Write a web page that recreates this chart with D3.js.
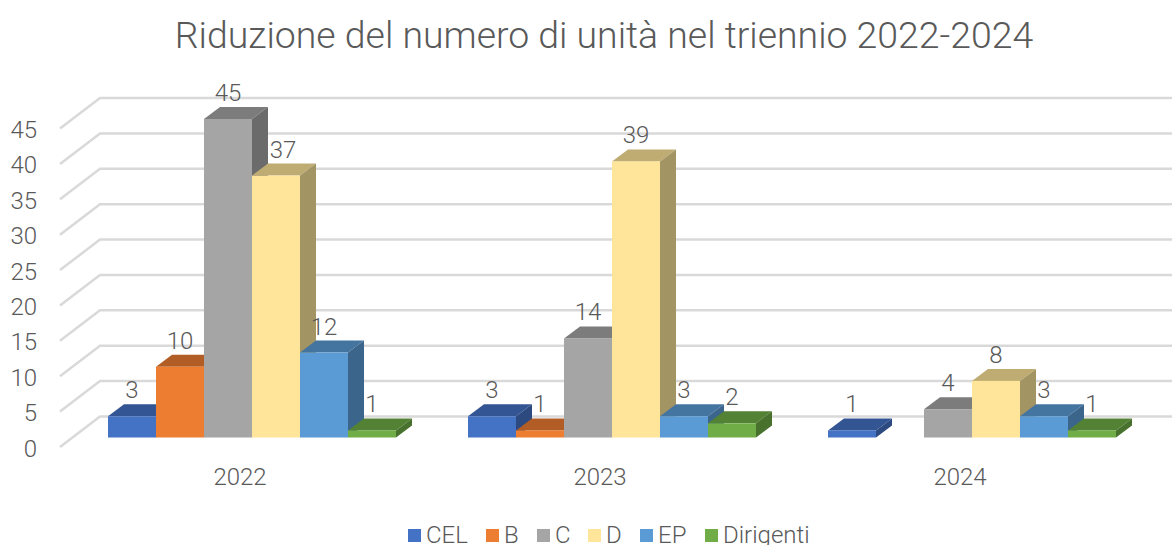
<!DOCTYPE html>
<html><head><meta charset="utf-8">
<script src="https://cdn.jsdelivr.net/npm/d3@7"></script>
<style>
html,body{margin:0;padding:0;background:#fff;overflow:hidden}
svg{display:block}
text{font-family:Roboto,sans-serif;font-weight:300;fill:#595959}
</style></head><body>
<svg id="c" width="1172" height="545"></svg>
<script>
const titleText = "Riduzione del numero di unità nel triennio 2022-2024";
const years = ["2022","2023","2024"];
const seriesNames = ["CEL","B","C","D","EP","Dirigenti"];
const CEL = [3,3,1];
const B = [10,1,null];
const C = [45,14,4];
const D = [37,39,8];
const EP = [12,3,3];
const Dirigenti = [1,2,1];
const seriesValues = [CEL,B,C,D,EP,Dirigenti];
const yTicks = [0,5,10,15,20,25,30,35,40,45];
const frontColors = ["#4472C4","#ED7D31","#A5A5A5","#FFE599","#5B9BD5","#70AD47"];
const topColors = ["#335593","#B25D25","#7C7C7C","#BFAC72","#4474A0","#548235"];
const sideColors = ["#2C4A80","#9B5120","#6B6B6B","#A39563","#3B658A","#49712E"];

const svg = d3.select("#c");
const depthX = 16, depthY = 12;
const wallX = 40, wallY = 21, tickDrop = 9.5;
const y = d3.scaleLinear().domain([0,45]).range([437.5,119]);
const x0 = d3.scaleBand().domain(years).range([60,1140]);
const x1 = d3.scaleBand().domain(seriesNames).range([48,336]);

svg.append("text").attr("x",604).attr("y",48).attr("text-anchor","middle")
  .style("font-size","37.4px").text(titleText);

// gridlines on floor edge and back wall
const grid = svg.append("g").attr("fill","none").attr("stroke","#D9D9D9").attr("stroke-width",2.5);
grid.selectAll("path").data(yTicks).join("path")
  .attr("d",v=>{
    const p=d3.path(), f=y(v)+tickDrop;
    p.moveTo(60,f); p.lineTo(60+wallX,y(v)-wallY); p.lineTo(1172,y(v)-wallY);
    return p.toString();
  });

// y axis labels
const yAxis = svg.append("g").attr("transform","translate(37,0)")
  .call(d3.axisLeft(y).tickValues(yTicks).tickSize(0).tickPadding(0));
yAxis.select(".domain").remove();
yAxis.selectAll("text").style("font-size","24px").style("font-family","Roboto").attr("dy",null)
  .attr("y",18.5).attr("x",0);

// x axis labels
const xAxis = svg.append("g").attr("transform","translate(0,476)")
  .call(d3.axisBottom(x0).tickSize(0).tickPadding(0));
xAxis.select(".domain").remove();
xAxis.selectAll("text").style("font-size","24px").style("font-family","Roboto").attr("dy",null).attr("y",9);

// bars
const bars = svg.append("g");
years.forEach((yr,gi)=>{
  seriesNames.forEach((s,si)=>{
    const v = seriesValues[si][gi];
    if(v===null) return;
    const left = x0(yr)+x1(s), w = x1.bandwidth(), top = y(v), base = y(0);
    const g = bars.append("g");
    g.append("path").attr("fill",topColors[si])
      .attr("d",d3.line()([[left,top],[left+depthX,top-depthY],[left+w+depthX,top-depthY],[left+w,top]])+"Z");
    g.append("path").attr("fill",sideColors[si])
      .attr("d",d3.line()([[left+w,top],[left+w+depthX,top-depthY],[left+w+depthX,base-depthY],[left+w,base]])+"Z");
    g.append("rect").attr("x",left).attr("y",top).attr("width",w).attr("height",base-top).attr("fill",frontColors[si]);
  });
});

// value labels
const labels = svg.append("g").attr("text-anchor","middle").style("font-size","24px");
years.forEach((yr,gi)=>{
  seriesNames.forEach((s,si)=>{
    const v = seriesValues[si][gi];
    if(v===null) return;
    const nudge = (gi===0 && si===3) ? 7 : 0;
    labels.append("text")
      .attr("x",x0(yr)+x1(s)+x1.bandwidth()/2+nudge)
      .attr("y",y(v)-18)
      .text(v);
  });
});

// legend
const legendX = [408,486,537,588,640,705];
const legend = svg.append("g");
seriesNames.forEach((s,i)=>{
  legend.append("rect").attr("x",legendX[i]).attr("y",529).attr("width",13).attr("height",13).attr("fill",frontColors[i]);
  legend.append("text").attr("x",legendX[i]+18).attr("y",543).style("font-size","24px").text(s);
});
</script>
</body></html>
